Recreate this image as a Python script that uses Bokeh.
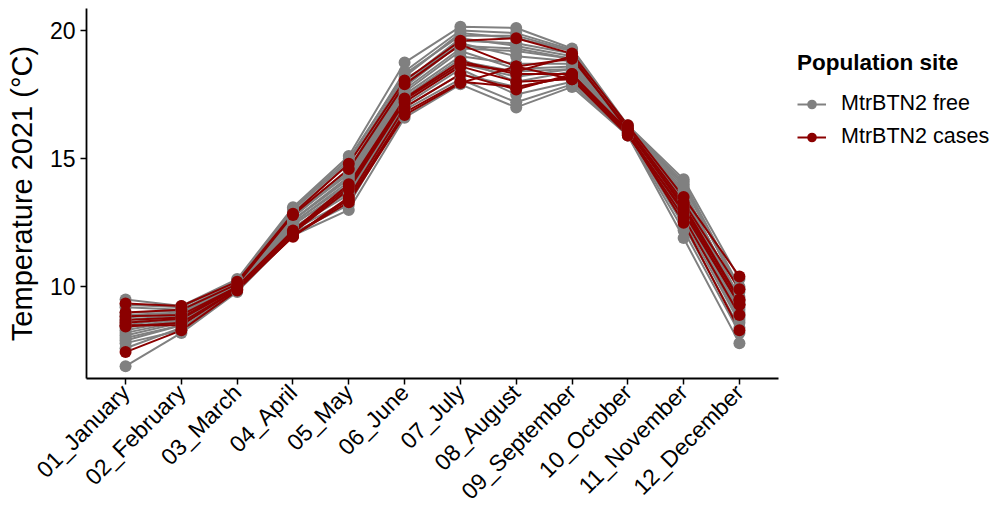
from bokeh.plotting import figure
from bokeh.layouts import row
from bokeh.models import FactorRange, Range1d, ColumnDataSource, Legend, LegendItem, FixedTicker
from bokeh.embed import file_html
from bokeh.resources import INLINE
import math

months = ["01_January", "02_February", "03_March", "04_April", "05_May", "06_June",
          "07_July", "08_August", "09_September", "10_October", "11_November", "12_December"]

free_sites = [
    [6.9, 8.2, 9.8, 12.0, 13.0, 16.6, 17.9, 17.0, 17.8, 15.9, 11.9, 7.8],
    [9.5, 9.25, 10.3, 13.1, 15.1, 18.75, 20.15, 20.1, 19.3, 16.3, 14.2, 10.3],
    [7.6, 8.4, 9.85, 12.1, 13.2, 16.9, 18.1, 17.2, 17.9, 15.9, 12.2, 8.2],
    [7.9, 8.5, 9.9, 12.3, 13.6, 17.1, 18.5, 17.5, 18.0, 15.95, 12.6, 8.6],
    [8.1, 8.6, 9.95, 12.4, 13.9, 17.4, 18.9, 18.0, 18.4, 16.0, 12.9, 8.8],
    [8.3, 8.7, 10.0, 12.5, 14.1, 17.6, 19.2, 18.5, 18.6, 16.05, 13.2, 9.0],
    [8.5, 8.8, 10.05, 12.6, 14.3, 17.8, 19.5, 19.0, 18.8, 16.1, 13.5, 9.2],
    [8.7, 8.9, 10.1, 12.7, 14.5, 18.0, 19.7, 19.4, 19.0, 16.15, 13.8, 9.5],
    [8.9, 9.0, 10.15, 12.9, 14.8, 18.2, 19.9, 19.7, 19.2, 16.2, 14.0, 9.8],
    [9.2, 9.1, 10.2, 13.0, 14.9, 18.4, 20.0, 19.9, 19.25, 16.25, 14.1, 10.0],
    [7.8, 8.3, 9.9, 12.2, 13.4, 17.0, 18.3, 17.8, 18.2, 15.95, 12.4, 8.4],
    [8.0, 8.5, 9.95, 12.3, 13.7, 17.2, 18.7, 18.2, 18.5, 16.0, 12.8, 8.7],
    [8.4, 8.75, 10.0, 12.5, 14.0, 17.5, 19.0, 18.7, 18.7, 16.05, 13.1, 9.1],
    [8.6, 8.85, 10.05, 12.6, 14.2, 17.7, 19.3, 19.2, 18.9, 16.1, 13.4, 9.3],
    [8.8, 8.95, 10.1, 12.75, 14.4, 17.9, 19.6, 19.5, 19.1, 16.15, 13.7, 9.6],
    [9.3, 9.2, 10.25, 13.05, 15.0, 18.3, 19.8, 19.8, 19.2, 16.2, 13.9, 9.9],
    [8.2, 8.65, 9.95, 12.45, 13.8, 17.3, 18.8, 18.4, 18.5, 16.0, 13.0, 8.9],
    [9.0, 9.05, 10.1, 12.8, 14.6, 18.1, 19.4, 19.3, 18.9, 16.1, 13.6, 9.4],
]

case_sites = [
    [9.35, 9.25, 10.2, 12.85, 14.8, 18.05, 19.6, 19.7, 19.1, 16.3, 13.5, 10.4],
    [9.0, 9.1, 10.1, 12.8, 14.6, 17.9, 19.45, 18.6, 18.9, 16.2, 13.3, 9.9],
    [8.85, 8.9, 10.0, 12.2, 14.0, 17.35, 18.8, 18.3, 18.3, 16.1, 13.1, 9.45],
    [8.6, 8.75, 9.95, 12.1, 13.8, 17.2, 18.6, 18.0, 18.1, 16.0, 12.9, 9.3],
    [8.45, 8.6, 9.9, 11.95, 13.5, 17.0, 18.3, 17.7, 18.3, 16.0, 12.5, 8.3],
    [7.45, 8.3, 9.85, 12.0, 13.3, 16.7, 17.95, 18.6, 18.1, 15.9, 13.0, 9.3],
    [8.7, 8.8, 10.0, 12.15, 13.9, 17.3, 18.7, 18.4, 19.0, 16.1, 13.2, 9.5],
    [8.5, 8.5, 9.9, 12.0, 13.4, 16.8, 18.0, 17.8, 18.2, 15.95, 12.7, 8.9],
]

y_ticks = [10, 15, 20]
legend_title = "Population site"
labels = ["MtrBTN2 free", "MtrBTN2 cases"]
colors = ["#808080", "#8B0000"]

FONT = "Liberation Sans"

p = figure(width=780, height=516,
           x_range=FactorRange(*months, range_padding=0.2, range_padding_units="absolute"),
           y_range=Range1d(6.42, 20.86),
           output_backend="svg", toolbar_location=None,
           min_border_left=86, min_border_right=2, min_border_top=8, min_border_bottom=137)

p.xgrid.visible = False
p.ygrid.visible = False
p.outline_line_color = None
p.background_fill_color = "white"
p.border_fill_color = "white"

def make_sources(series):
    ml = ColumnDataSource(dict(xs=[months[:] for _ in series], ys=[list(s) for s in series]))
    px, py = [], []
    for s in series:
        px.extend(months)
        py.extend(s)
    pts = ColumnDataSource(dict(x=px, y=py))
    return ml, pts

free_ml, free_pts = make_sources(free_sites)
case_ml, case_pts = make_sources(case_sites)

LW = 2.0
MS = 12
p.multi_line("xs", "ys", source=free_ml, line_color=colors[0], line_width=LW)
p.multi_line("xs", "ys", source=case_ml, line_color=colors[1], line_width=LW)
p.scatter("x", "y", source=free_pts, size=MS, fill_color=colors[0], line_color=None)
p.scatter("x", "y", source=case_pts, size=MS, fill_color=colors[1], line_color=None)

for ax in (p.xaxis[0], p.yaxis[0]):
    ax.axis_line_color = "black"
    ax.axis_line_width = 1.8
    ax.major_tick_line_color = "black"
    ax.major_tick_line_width = 1.5
    ax.major_tick_out = 6
    ax.major_tick_in = 0
    ax.minor_tick_line_color = None
    ax.major_label_text_font = FONT
    ax.major_label_text_font_size = "23px"
    ax.major_label_text_color = "black"

p.yaxis[0].ticker = FixedTicker(ticks=y_ticks)
p.yaxis[0].axis_label = "Temperature 2021 (°C)"
p.yaxis[0].axis_label_text_font = FONT
p.yaxis[0].axis_label_text_font_size = "29px"
p.yaxis[0].axis_label_text_font_style = "normal"
p.yaxis[0].axis_label_text_color = "black"
p.yaxis[0].axis_label_standoff = 9
p.yaxis[0].major_label_standoff = 5

p.xaxis[0].major_label_orientation = math.pi / 4
p.xaxis[0].major_label_standoff = 4
p.xaxis[0].group_text_font_size = "0px"

# legend panel (frame aligned with the main plot's frame: 8..379)
q = figure(width=211, height=516, output_backend="svg", toolbar_location=None,
           x_range=Range1d(0, 1), y_range=Range1d(0, 1),
           min_border_left=17, min_border_right=0, min_border_top=8, min_border_bottom=137,
           x_axis_type=None, y_axis_type=None)
q.xgrid.visible = False
q.ygrid.visible = False
q.outline_line_color = None
q.border_fill_color = "white"
q.background_fill_color = "white"

placeholder = ColumnDataSource(dict(x=[float("nan")], y=[float("nan")]))
r_lines, r_pts = [], []
for c in colors:
    r_lines.append(q.line("x", "y", source=placeholder, line_color=c, line_width=LW))
    r_pts.append(q.scatter("x", "y", source=placeholder, size=MS, fill_color=c, line_color=None))

legend = Legend(items=[LegendItem(label=labels[i], renderers=[r_lines[i], r_pts[i]]) for i in range(2)],
                location=(0, 229), title=legend_title,
                title_text_font=FONT, title_text_font_size="22.5px", title_text_font_style="bold",
                title_standoff=15,
                label_text_font=FONT, label_text_font_size="21.5px", label_text_color="black",
                glyph_width=29, glyph_height=24, label_standoff=15, spacing=8,
                padding=0, margin=0, border_line_color=None, background_fill_alpha=0)
legend.title_text_color = "black"
q.add_layout(legend, "center")

layout = row(p, q)
open("out.html", "w").write(file_html(layout, INLINE))
